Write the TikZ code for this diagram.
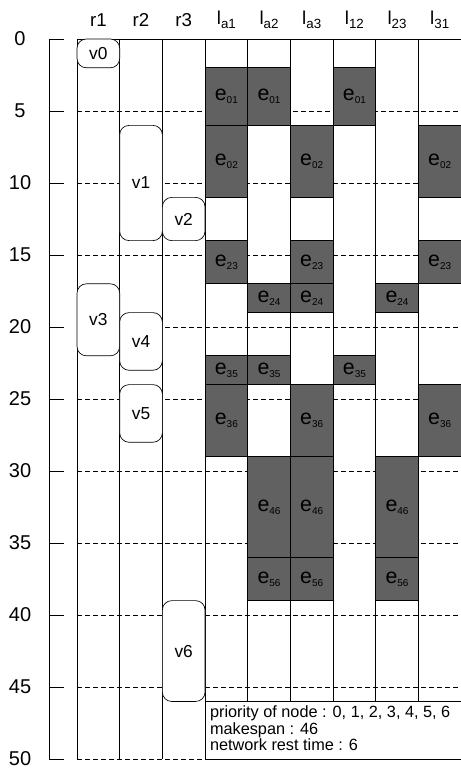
\documentclass[tikz,border=0pt]{standalone}
\usepackage{fontspec}
\setmainfont{Liberation Sans}
\usepackage{tikz}

\newcommand{\edg}[1]{{\fontsize{16}{16}\selectfont e}\raisebox{-0.4ex}{\fontsize{7.5}{7.5}\selectfont #1}}
\newcommand{\lnk}[1]{l\raisebox{-0.45ex}{\fontsize{10}{10}\selectfont #1}}

\begin{document}
\begin{tikzpicture}[
  x=32pt, y=-10.8pt,
  task/.style={draw, fill=white, rounded corners=7pt, minimum width=32pt,
    inner sep=0pt, line width=0.5pt, font=\fontsize{13}{13}\selectfont},
  blk/.style={draw, fill=black!62, minimum width=32pt, inner sep=0pt,
    line width=0.6pt},
  gline/.style={dash pattern=on 3.5pt off 2.5pt, line width=0.5pt},
  colline/.style={line width=0.5pt},
  hdr/.style={font=\fontsize{14}{14}\selectfont},
  axlabel/.style={font=\fontsize{15}{15}\selectfont},
  note/.style={font=\fontsize{12.2}{12.2}\selectfont, align=left,
    anchor=north west, inner sep=1pt}
 ]
\useasboundingbox (-1.805,-2.708) rectangle (8.98,50.69);

% time axis
\draw[colline] (-0.656,0) -- (-0.656,50);
\foreach \t in {0,5,...,50} {
  \draw[colline] (-0.656,\t) -- (-0.305,\t);
  \node[axlabel] (ax\t) at (-1.336,\t) {\t};
}

% chart frame and grid
\foreach \t in {5,10,...,50}
  \draw[gline] (0,\t) -- (9,\t);
\draw[colline] (0,0) -- (9,0);
\foreach \k in {0,...,9}
  \draw[colline] (\k,0) -- (\k,50);

% column headers
\node[hdr] (hr1) at (0.5,-1.32) {r1};
\node[hdr] (hr2) at (1.5,-1.32) {r2};
\node[hdr] (hr3) at (2.5,-1.32) {r3};
\node[hdr] (hla1) at (3.5,-1.32) {\lnk{a1}};
\node[hdr] (hla2) at (4.5,-1.32) {\lnk{a2}};
\node[hdr] (hla3) at (5.5,-1.32) {\lnk{a3}};
\node[hdr] (hl12) at (6.5,-1.32) {\lnk{12}};
\node[hdr] (hl23) at (7.5,-1.32) {\lnk{23}};
\node[hdr] (hl31) at (8.5,-1.32) {\lnk{31}};

% link la1
\node[blk, minimum height=43.2pt] (a1e01) at (3.5,4) {\edg{01}};
\node[blk, minimum height=54pt] (a1e02) at (3.5,8.5) {\edg{02}};
\node[blk, minimum height=32.4pt] (a1e23) at (3.5,15.5) {\edg{23}};
\node[blk, minimum height=21.6pt] (a1e35) at (3.5,23) {\edg{35}};
\node[blk, minimum height=54pt] (a1e36) at (3.5,26.5) {\edg{36}};

% link la2
\node[blk, minimum height=43.2pt] (a2e01) at (4.5,4) {\edg{01}};
\node[blk, minimum height=21.6pt] (a2e24) at (4.5,18) {\edg{24}};
\node[blk, minimum height=21.6pt] (a2e35) at (4.5,23) {\edg{35}};
\node[blk, minimum height=75.6pt] (a2e46) at (4.5,32.5) {\edg{46}};
\node[blk, minimum height=32.4pt] (a2e56) at (4.5,37.5) {\edg{56}};

% link la3
\node[blk, minimum height=54pt] (a3e02) at (5.5,8.5) {\edg{02}};
\node[blk, minimum height=32.4pt] (a3e23) at (5.5,15.5) {\edg{23}};
\node[blk, minimum height=21.6pt] (a3e24) at (5.5,18) {\edg{24}};
\node[blk, minimum height=54pt] (a3e36) at (5.5,26.5) {\edg{36}};
\node[blk, minimum height=75.6pt] (a3e46) at (5.5,32.5) {\edg{46}};
\node[blk, minimum height=32.4pt] (a3e56) at (5.5,37.5) {\edg{56}};

% link l12
\node[blk, minimum height=43.2pt] (l12e01) at (6.5,4) {\edg{01}};
\node[blk, minimum height=21.6pt] (l12e35) at (6.5,23) {\edg{35}};

% link l23
\node[blk, minimum height=21.6pt] (l23e24) at (7.5,18) {\edg{24}};
\node[blk, minimum height=75.6pt] (l23e46) at (7.5,32.5) {\edg{46}};
\node[blk, minimum height=32.4pt] (l23e56) at (7.5,37.5) {\edg{56}};

% link l31
\node[blk, minimum height=54pt] (l31e02) at (8.5,8.5) {\edg{02}};
\node[blk, minimum height=32.4pt] (l31e23) at (8.5,15.5) {\edg{23}};
\node[blk, minimum height=54pt] (l31e36) at (8.5,26.5) {\edg{36}};

% tasks on processors
\node[task, minimum height=21.6pt] (v0) at (0.5,1) {v0};
\node[task, minimum height=86.4pt] (v1) at (1.5,10) {v1};
\node[task, minimum height=32.4pt] (v2) at (2.5,12.5) {v2};
\node[task, minimum height=54pt] (v3) at (0.5,19.5) {v3};
\node[task, minimum height=43.2pt] (v4) at (1.5,21) {v4};
\node[task, minimum height=43.2pt] (v5) at (1.5,26) {v5};
\node[task, minimum height=75.6pt] (v6) at (2.5,42.5) {v6};

% summary
\node[draw, fill=white, line width=0.5pt, anchor=north west,
  minimum width=192pt, minimum height=43.2pt, inner sep=0pt] (info) at (3,46) {};
\node[note] (infotxt) at (3.08,46.2) {priority of node : 0, 1, 2, 3, 4, 5, 6\\
  makespan : 46\\network rest time : 6};
\end{tikzpicture}
\end{document}
